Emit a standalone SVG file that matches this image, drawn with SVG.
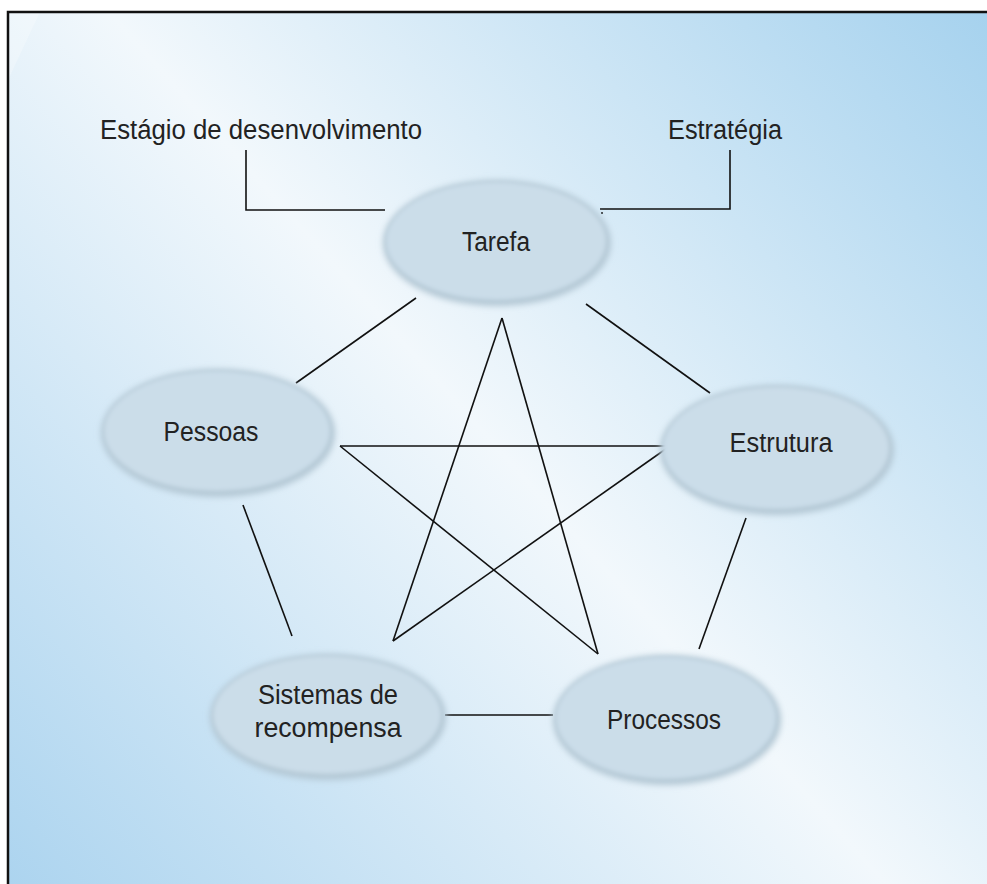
<svg xmlns="http://www.w3.org/2000/svg" width="987" height="884" viewBox="0 0 987 884">
  <defs>
    <linearGradient id="bg" gradientUnits="userSpaceOnUse" x1="8" y1="884" x2="987" y2="12">
      <stop offset="0" stop-color="#acd4ef"/>
      <stop offset="0.5" stop-color="#f2f8fc"/>
      <stop offset="1" stop-color="#a6d2ee"/>
    </linearGradient>
    <filter id="soft" x="-20%" y="-20%" width="140%" height="140%">
      <feGaussianBlur stdDeviation="2.2"/>
    </filter>
    <filter id="rim" x="-20%" y="-20%" width="140%" height="140%">
      <feGaussianBlur stdDeviation="3"/>
    </filter>
  </defs>
  <style>
    .lbl { font-family: "Liberation Sans", Arial, sans-serif; font-size: 27px; fill: #222; text-anchor: middle; }
    .ext { font-family: "Liberation Sans", Arial, sans-serif; font-size: 27px; fill: #222; }
    .ln { stroke: #111; stroke-width: 1.6; fill: none; }
    .rim { fill: #b3c7d4; filter: url(#rim); }
    .body { fill: #cbdde9; filter: url(#soft); }
  </style>
  <rect x="0" y="0" width="987" height="884" fill="#ffffff"/>
  <rect x="8" y="12" width="979" height="872" fill="url(#bg)"/>
  <polygon points="8,12 40,12 8,80" fill="#ffffff" opacity="0.25"/>
  <path d="M8,884 V12 H987" stroke="#111" stroke-width="2.5" fill="none"/>

  <g id="external-labels">
    <text class="ext" x="100" y="139" textLength="322" lengthAdjust="spacingAndGlyphs">Estágio de desenvolvimento</text>
    <text class="ext" x="668" y="139" textLength="114" lengthAdjust="spacingAndGlyphs">Estratégia</text>
  </g>

  <g id="connectors">
    <polyline class="ln" points="246,150 246,210 385,210"/>
    <polyline class="ln" points="730,150 730,209 600,209"/>
    <circle cx="602" cy="213" r="1" fill="#111"/>
    <line class="ln" x1="416" y1="298" x2="296" y2="383"/>
    <line class="ln" x1="586" y1="304" x2="710" y2="393"/>
    <line class="ln" x1="243" y1="505" x2="292" y2="636"/>
    <line class="ln" x1="746" y1="518" x2="699" y2="649"/>
    <line class="ln" x1="445" y1="715" x2="553" y2="715"/>
    <line class="ln" x1="502" y1="318" x2="393" y2="641"/>
    <line class="ln" x1="502" y1="318" x2="598" y2="654"/>
    <line class="ln" x1="340" y1="446" x2="670" y2="446"/>
    <line class="ln" x1="340" y1="446" x2="598" y2="654"/>
    <line class="ln" x1="670" y1="446" x2="393" y2="641"/>
  </g>

  <g id="tarefa">
    <ellipse class="rim" cx="497" cy="243" rx="114" ry="63"/>
    <ellipse class="body" cx="496" cy="241" rx="110" ry="59"/>
    <text class="lbl" x="496" y="251" textLength="68" lengthAdjust="spacingAndGlyphs">Tarefa</text>
  </g>
  <g id="pessoas">
    <ellipse class="rim" cx="218" cy="433" rx="117" ry="64"/>
    <ellipse class="body" cx="217" cy="431" rx="113" ry="60"/>
    <text class="lbl" x="211" y="441" textLength="95" lengthAdjust="spacingAndGlyphs">Pessoas</text>
  </g>
  <g id="estrutura">
    <ellipse class="rim" cx="777" cy="450" rx="117" ry="65"/>
    <ellipse class="body" cx="776" cy="448" rx="113" ry="61"/>
    <text class="lbl" x="781" y="452" textLength="103" lengthAdjust="spacingAndGlyphs">Estrutura</text>
  </g>
  <g id="sistemas-de-recompensa">
    <ellipse class="rim" cx="328" cy="717" rx="118" ry="63"/>
    <ellipse class="body" cx="327" cy="715" rx="114" ry="59"/>
    <text class="lbl" x="328" y="704" textLength="140" lengthAdjust="spacingAndGlyphs">Sistemas de</text>
    <text class="lbl" x="328" y="737" textLength="147" lengthAdjust="spacingAndGlyphs">recompensa</text>
  </g>
  <g id="processos">
    <ellipse class="rim" cx="667" cy="720" rx="114" ry="65"/>
    <ellipse class="body" cx="666" cy="718" rx="110" ry="61"/>
    <text class="lbl" x="664" y="729" textLength="114" lengthAdjust="spacingAndGlyphs">Processos</text>
  </g>
</svg>
